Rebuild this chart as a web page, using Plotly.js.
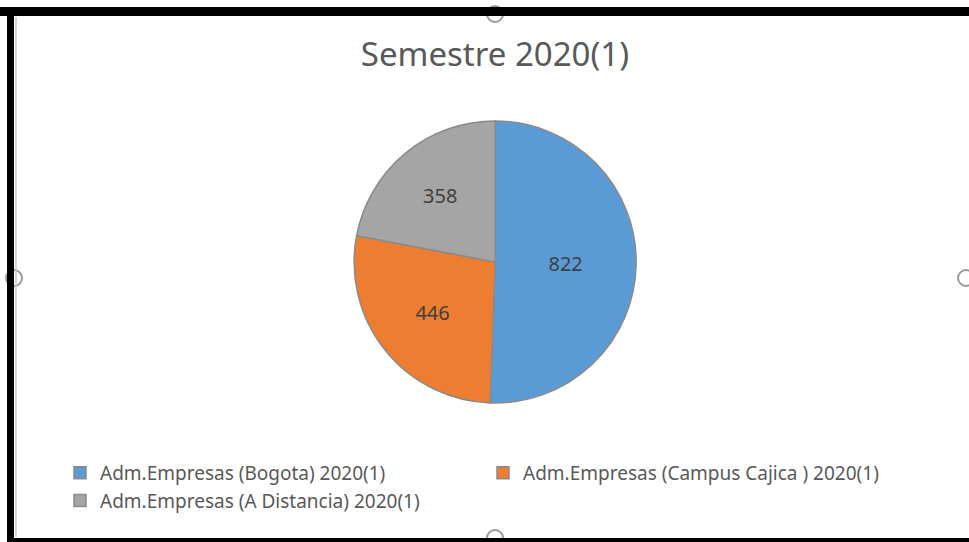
<!DOCTYPE html>
<html>
<head>
<meta charset="utf-8">
<script src="https://cdn.plot.ly/plotly-3.0.1.min.js"></script>
<style>
  html, body { margin: 0; padding: 0; background: #ffffff; }
  #chart { width: 969px; height: 542px; }
</style>
</head>
<body>
<div id="chart"></div>
<script>
const categories = [
  'Adm.Empresas (Bogota) 2020(1)',
  'Adm.Empresas (Campus Cajica ) 2020(1)',
  'Adm.Empresas (A Distancia) 2020(1)'
];
const values = [822, 446, 358];
const sliceColors = ['#5B9BD5', '#ED7D31', '#A5A5A5'];
const chartTitle = 'Semestre 2020(1)';

const W = 969, H = 542;
const px = x => x / W;
const py = y => 1 - y / H;

const trace = {
  type: 'pie',
  labels: categories,
  values: values,
  sort: false,
  direction: 'clockwise',
  rotation: 0,
  marker: { colors: sliceColors, line: { color: '#8a8a8a', width: 1.5 } },
  textinfo: 'value',
  textposition: 'inside',
  insidetextorientation: 'horizontal',
  textfont: { family: 'Noto Sans, sans-serif', size: 20, color: '#404040' },
  hoverinfo: 'label+value',
  domain: { x: [0.30, 0.722], y: [0.2565, 0.7768] }
};

const handle = (cx, cy) => ({
  type: 'circle', xref: 'paper', yref: 'paper', layer: 'above',
  x0: px(cx - 8), x1: px(cx + 8), y0: py(cy + 8), y1: py(cy - 8),
  line: { color: '#9a9a9a', width: 2 }, fillcolor: '#fff'
});
const bar = (x0, x1, y0, y1) => ({
  type: 'rect', xref: 'paper', yref: 'paper', layer: 'above',
  x0: px(x0), x1: px(x1), y0: py(y1), y1: py(y0),
  fillcolor: '#000', line: { width: 0 }
});

const frameShapes = [
  handle(495, 14), handle(14, 278), handle(966, 278), handle(495, 538),
  bar(0, W, 7, 16),
  bar(7, 14, 7, H),
  bar(7, W, 538, H),
  { type: 'line', xref: 'paper', yref: 'paper', layer: 'above', x0: px(16), x1: px(16), y0: py(537), y1: py(17), line: { color: '#c8c8c8', width: 1.5 } }
];

const layout = {
  width: W,
  height: H,
  margin: { l: 0, r: 0, t: 0, b: 0 },
  paper_bgcolor: '#ffffff',
  title: {
    text: chartTitle,
    font: { family: 'Noto Sans, sans-serif', size: 33, color: '#595959' },
    x: 495 / W, xanchor: 'center',
    y: py(54), yanchor: 'middle'
  },
  showlegend: true,
  legend: {
    orientation: 'h',
    x: px(60), xanchor: 'left',
    y: py(454), yanchor: 'top',
    entrywidth: 378,
    entrywidthmode: 'pixels',
    itemwidth: 30,
    font: { family: 'Noto Sans, sans-serif', size: 19, color: '#595959' },
    bgcolor: 'rgba(0,0,0,0)'
  },
  shapes: frameShapes
};

Plotly.newPlot('chart', [trace], layout, { displayModeBar: false, staticPlot: true });
</script>
</body>
</html>
